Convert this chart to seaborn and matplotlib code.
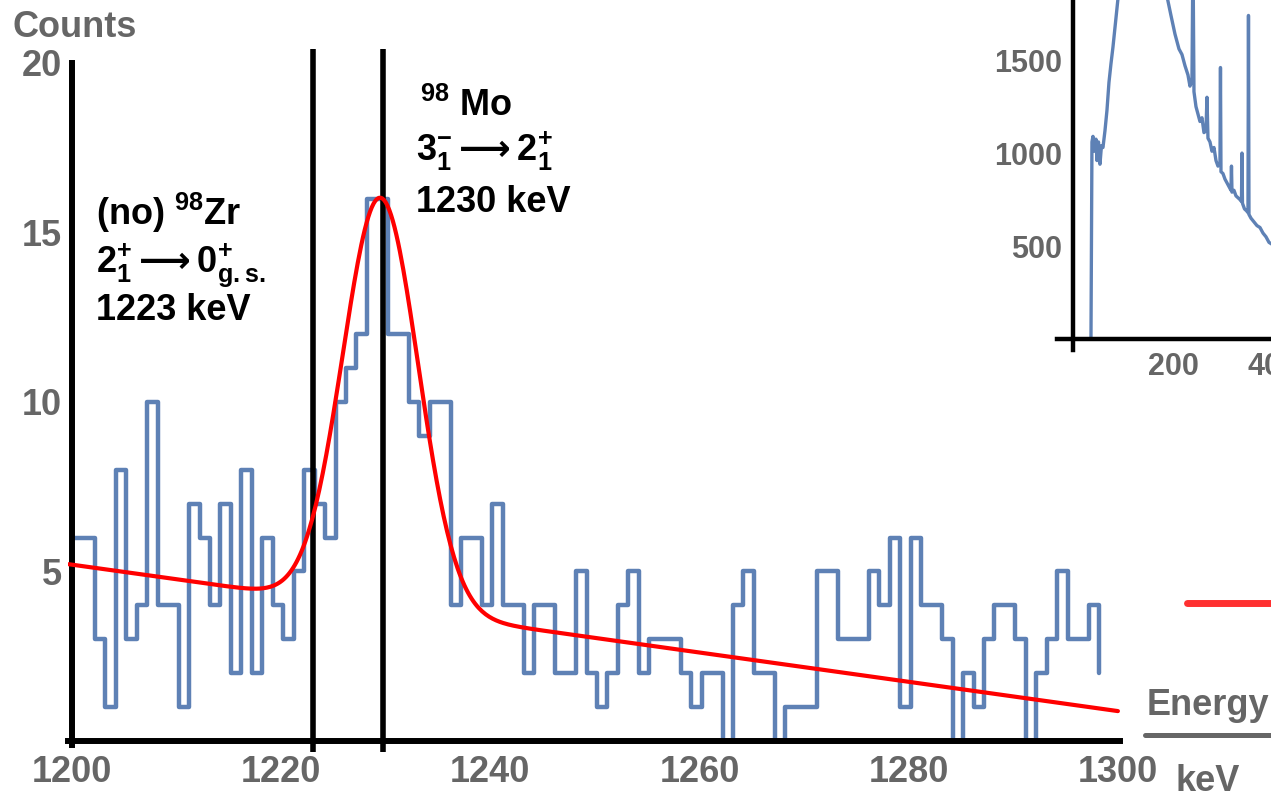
import numpy as np
import matplotlib.pyplot as plt
from matplotlib.lines import Line2D
from matplotlib.ticker import MultipleLocator, FixedLocator
import seaborn as sns

# counts per 1 keV bin, 1200 .. 1298 keV
bin_start = 1200.2
counts = [6, 6, 3, 1, 8, 3, 4, 10, 4, 4,
          1, 7, 6, 4, 7, 2, 8, 2, 6, 4,
          3, 5, 8, 7, 6, 10, 11, 12, 16, 16,
          12, 12, 10, 9, 10, 10, 4, 6, 6, 4,
          7, 4, 4, 2, 4, 4, 2, 2, 5, 2,
          1, 2, 4, 5, 2, 3, 3, 3, 2, 1,
          2, 2, 0, 4, 5, 2, 2, 0, 1, 1,
          1, 5, 5, 3, 3, 3, 5, 4, 6, 1,
          6, 4, 4, 3, 0, 2, 1, 3, 4, 4,
          3, 0, 2, 3, 5, 3, 3, 4, 2]

# fit: linear background + gaussian
bg_at_1200 = 5.2
bg_slope = -0.0432
peak_amp = 12.1
peak_pos = 1229.5
peak_sigma = 3.6

# marker lines for the two transitions
marker_energies = [1223.05, 1229.7]

# full spectrum in the inset (partly cut off in the original)
inset_energy = [30, 36, 38, 40, 43, 46, 48, 51, 54, 57, 60, 64, 68, 72, 76, 80, 85, 90,
                100, 120, 140, 160, 178, 189, 196, 204, 212, 218, 224, 230, 234, 238,
                240, 242, 246, 250, 254, 258, 262, 266, 268, 270, 274, 278, 282, 286,
                290, 294, 295, 296, 300, 304, 308, 312, 316, 317, 318, 322, 326, 330,
                334, 337, 338, 339, 343, 347, 350, 351, 352, 356, 362, 368, 374, 380,
                386, 392, 398, 404]
inset_counts = [0, 0, 1060, 1090, 1010, 1075, 960, 1060, 940, 1040, 1030, 1120, 1230,
                1380, 1480, 1570, 1700, 1830, 2150, 2550, 2650, 2450, 2050, 1830, 1740,
                1640, 1560, 1530, 1470, 1420, 1360, 1390, 2100, 1330, 1250, 1210, 1170,
                1190, 1110, 1120, 1300, 1080, 1060, 1010, 1030, 960, 930, 950, 1460, 900,
                890, 860, 840, 820, 800, 930, 790, 800, 770, 760, 750, 740, 1000, 730,
                700, 690, 680, 1740, 670, 650, 630, 610, 600, 570, 550, 520, 510, 500]

sns.set_style('white')
plt.rcParams['font.family'] = ['Liberation Sans', 'DejaVu Sans']
plt.rcParams['font.weight'] = 'bold'
plt.rcParams['mathtext.fontset'] = 'custom'
plt.rcParams['mathtext.rm'] = 'Liberation Sans:bold'
plt.rcParams['mathtext.it'] = 'Liberation Sans:bold'
plt.rcParams['mathtext.bf'] = 'Liberation Sans:bold'
plt.rcParams['mathtext.sf'] = 'DejaVu Sans'
plt.rcParams['mathtext.default'] = 'rm'
plt.rcParams['mathtext.fallback'] = 'stixsans'

grey = '#666666'
tick_grey = '#555555'
blue = '#5E81B5'

energy = bin_start + np.arange(len(counts))
e_fit = np.linspace(1199.7, 1300, 600)
fit = (bg_at_1200 + bg_slope * (e_fit - 1200)
       + peak_amp * np.exp(-(e_fit - peak_pos) ** 2 / (2 * peak_sigma ** 2)))

fig = plt.figure(figsize=(12.71, 7.96), dpi=100)
ax = fig.add_axes([0.0533, 0.0628, 0.8279, 0.8751])

sns.lineplot(x=energy, y=counts, drawstyle='steps-post', color=blue, lw=3.2,
             estimator=None, ax=ax, zorder=2)
ax.vlines(marker_energies, -0.33, 20.4, color='black', lw=4, clip_on=False, zorder=3)
sns.lineplot(x=e_fit, y=fit, color='red', lw=3, ax=ax, zorder=4)

ax.set_xlim(1199.6, 1300.2)
ax.set_ylim(-0.15, 20.4)
ax.set(xlabel='', ylabel='')
sns.despine(ax=ax)
ax.spines['left'].set_position(('data', 1200))
ax.spines['bottom'].set_position(('data', 0))
ax.spines['left'].set_bounds(-0.12, 20)
for s in ['left', 'bottom']:
    ax.spines[s].set_linewidth(4.3)
    ax.spines[s].set_color('black')

ax.xaxis.set_major_locator(MultipleLocator(20))
ax.xaxis.set_minor_locator(MultipleLocator(5))
ax.yaxis.set_major_locator(FixedLocator([5, 10, 15, 20]))
ax.yaxis.set_minor_locator(MultipleLocator(1))
ax.tick_params(which='both', direction='in', color=tick_grey, labelcolor=grey,
               labelsize=26, width=2.2)
ax.tick_params(which='major', length=6)
ax.tick_params(which='minor', length=3.5)
ax.tick_params(axis='x', pad=10)
ax.tick_params(axis='y', pad=7)

# transition labels
txt = dict(fontsize=26, color='black', va='baseline', ha='left')
ax.text(1202.3, 15.22, r'(no) $^{98}$Zr', **txt)
ax.text(1202.3, 13.83, r'2$^{+}_{1}\mathsf{\longrightarrow}$0$^{+}_{g.s.}$', **txt)
ax.text(1202.3, 12.42, '1223 keV', **txt)
ax.text(1233.3, 18.44, r'$^{98}$ Mo', **txt)
ax.text(1232.9, 17.11, r'3$^{-}_{1}\mathsf{\longrightarrow}$2$^{+}_{1}$', **txt)
ax.text(1232.9, 15.60, '1230 keV', **txt)

# inset: whole spectrum, cut by the figure edge
axin = fig.add_axes([0.8316, 0.56, 0.406, 0.715])
sns.lineplot(x=inset_energy, y=inset_counts, color=blue, lw=2.4, estimator=None, ax=axin)
axin.set_xlim(-32, 1000)
axin.set_ylim(-60, 3000)
axin.set(xlabel='', ylabel='')
sns.despine(ax=axin)
axin.spines['left'].set_position(('data', 0))
axin.spines['bottom'].set_position(('data', 0))
for s in ['left', 'bottom']:
    axin.spines[s].set_linewidth(3.2)
    axin.spines[s].set_color('black')
axin.xaxis.set_major_locator(FixedLocator([200, 400, 600, 800]))
axin.yaxis.set_major_locator(FixedLocator([500, 1000, 1500, 2000, 2500]))
axin.yaxis.set_minor_locator(MultipleLocator(100))
axin.tick_params(which='both', direction='in', color=tick_grey, labelcolor=grey,
                 labelsize=22, width=2)
axin.tick_params(which='major', length=5)
axin.tick_params(which='minor', length=3)
axin.tick_params(axis='x', pad=9)
axin.tick_params(axis='y', pad=8)

# axis captions and cut-off legend pieces
fig.text(12 / 1271, 1 - 37 / 796, 'Counts', color=grey, fontsize=26, va='baseline')
fig.text(1175 / 1271, 1 - 791 / 796, 'keV', color=grey, fontsize=26, va='baseline')
fig.text(1147 / 1271, 1 - 715 / 796, 'Energy', color=grey, fontsize=26, va='baseline')
fig.add_artist(Line2D([1145 / 1271, 1.0], [1 - 735 / 796] * 2, color=grey, lw=3.6,
                      transform=fig.transFigure))
fig.add_artist(Line2D([1187 / 1271, 1.0], [1 - 603 / 796] * 2, color='#FF3030', lw=5,
                      transform=fig.transFigure))

fig.savefig('out.png', dpi=100)
